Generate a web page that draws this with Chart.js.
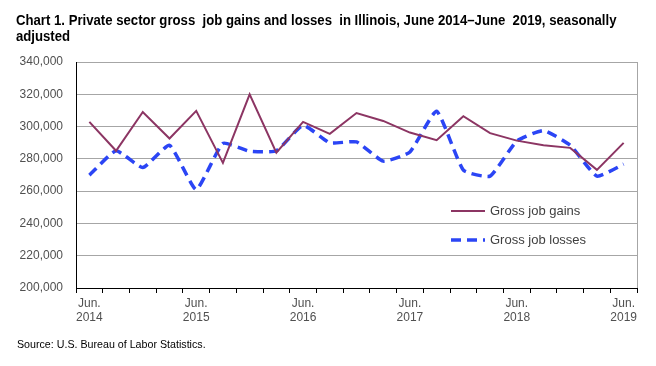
<!DOCTYPE html>
<html>
<head>
<meta charset="utf-8">
<script src="https://cdn.jsdelivr.net/npm/chart.js@4.4.0/dist/chart.umd.min.js"></script>
<style>
  body { margin: 0; background: #fff; }
  #wrap { position: relative; width: 656px; height: 366px; }
  #title {
    position: absolute; left: 16px; top: 12px; white-space: nowrap;
    font: bold 14px "Liberation Sans Narrow", "Arial Narrow", "Liberation Sans", sans-serif;
    line-height: 16px; color: #000;
    transform: scaleX(0.94); transform-origin: left top;
  }
  #source {
    position: absolute; left: 17px; top: 338px; white-space: nowrap;
    font: 11px "Liberation Sans Narrow", "Arial Narrow", "Liberation Sans", sans-serif;
    color: #000;
    transform: scaleX(0.97); transform-origin: left top;
  }
  canvas { position: absolute; left: 0; top: 0; }
</style>
</head>
<body>
<div id="wrap">
  <canvas id="chart" width="656" height="366"></canvas>
  <div id="title">Chart 1. Private sector gross&nbsp; job gains and losses&nbsp; in Illinois, June 2014–June&nbsp; 2019, seasonally<br>adjusted</div>
  <div id="source">Source: U.S. Bureau of Labor Statistics.</div>
</div>
<script>
// quarterly, June 2014 - June 2019
const quarters = [
  'Jun 2014', 'Sep 2014', 'Dec 2014', 'Mar 2015',
  'Jun 2015', 'Sep 2015', 'Dec 2015', 'Mar 2016',
  'Jun 2016', 'Sep 2016', 'Dec 2016', 'Mar 2017',
  'Jun 2017', 'Sep 2017', 'Dec 2017', 'Mar 2018',
  'Jun 2018', 'Sep 2018', 'Dec 2018', 'Mar 2019',
  'Jun 2019'
];
const jobGains = [
  302900, 285000, 309000, 292600, 309700, 277500, 320000, 283900,
  302900, 295500, 308400, 303500, 296300, 291600, 306400, 295900,
  291300, 288500, 286800, 273200, 289900
];
const jobLosses = [
  269900, 285000, 274600, 288400, 261000, 289500, 284700, 285000,
  300800, 289900, 290500, 278600, 284300, 309500, 273000, 269300,
  291000, 297500, 288400, 269300, 276700
];
const yTicks = [200000, 220000, 240000, 260000, 280000, 300000, 320000, 340000];
const xTickLabels = {
  0: ['Jun.', '2014'], 4: ['Jun.', '2015'], 8: ['Jun.', '2016'],
  12: ['Jun.', '2017'], 16: ['Jun.', '2018'], 20: ['Jun.', '2019']
};

const tickFont = { family: '"Liberation Sans", Arial, sans-serif', size: 12 };
const tickColor = '#505050';

// legend drawn inside the plot area, plus the grey right border
const extras = {
  id: 'extras',
  afterDraw(chart) {
    const { ctx, chartArea } = chart;
    ctx.save();
    ctx.strokeStyle = '#a6a6a6';
    ctx.lineWidth = 1;
    ctx.beginPath();
    ctx.moveTo(chartArea.right + 0.5, chartArea.top);
    ctx.lineTo(chartArea.right + 0.5, chartArea.bottom);
    ctx.stroke();

    const items = chart.data.datasets;
    const lx = 451, ly = [211, 240];
    items.forEach((ds, i) => {
      ctx.strokeStyle = ds.borderColor;
      ctx.lineWidth = ds.borderWidth;
      ctx.setLineDash(ds.borderDash || []);
      ctx.beginPath();
      ctx.moveTo(lx, ly[i]);
      ctx.lineTo(lx + 34, ly[i]);
      ctx.stroke();
      ctx.setLineDash([]);
      ctx.fillStyle = '#404040';
      ctx.font = '13px "Liberation Sans", Arial, sans-serif';
      ctx.textBaseline = 'middle';
      ctx.fillText(ds.label, lx + 39, ly[i]);
    });
    ctx.restore();
  }
};

new Chart(document.getElementById('chart'), {
  type: 'line',
  data: {
    labels: quarters,
    datasets: [
      {
        label: 'Gross job gains',
        data: jobGains,
        borderColor: '#8c3563',
        borderWidth: 2,
        pointRadius: 0,
        tension: 0,
        fill: false
      },
      {
        label: 'Gross job losses',
        data: jobLosses,
        borderColor: '#2b45f5',
        borderWidth: 3.5,
        borderDash: [10, 6],
        pointRadius: 0,
        tension: 0.15,
        fill: false
      }
    ]
  },
  options: {
    responsive: false,
    animation: false,
    layout: { padding: { left: 0, right: 19, top: 62, bottom: 0 } },
    plugins: {
      legend: { display: false },
      tooltip: { enabled: false }
    },
    scales: {
      x: {
        offset: true,
        grid: {
          offset: true,
          drawOnChartArea: false,
          drawTicks: true,
          tickLength: 5,
          color: '#000'
        },
        border: { color: '#000', width: 1 },
        ticks: {
          autoSkip: false,
          maxRotation: 0,
          padding: 3,
          font: tickFont,
          color: tickColor,
          callback: (v, i) => xTickLabels[i] || ''
        },
        afterFit: (scale) => { scale.height = 78; }
      },
      y: {
        min: 200000,
        max: 340000,
        afterBuildTicks: (scale) => { scale.ticks = yTicks.map(v => ({ value: v })); },
        grid: { color: '#a6a6a6', drawTicks: false },
        border: { color: '#000', width: 1 },
        ticks: {
          padding: 13,
          font: tickFont,
          color: tickColor,
          callback: (v) => v.toLocaleString('en-US')
        },
        afterFit: (scale) => { scale.width = 76; }
      }
    }
  },
  plugins: [extras]
});
</script>
</body>
</html>
